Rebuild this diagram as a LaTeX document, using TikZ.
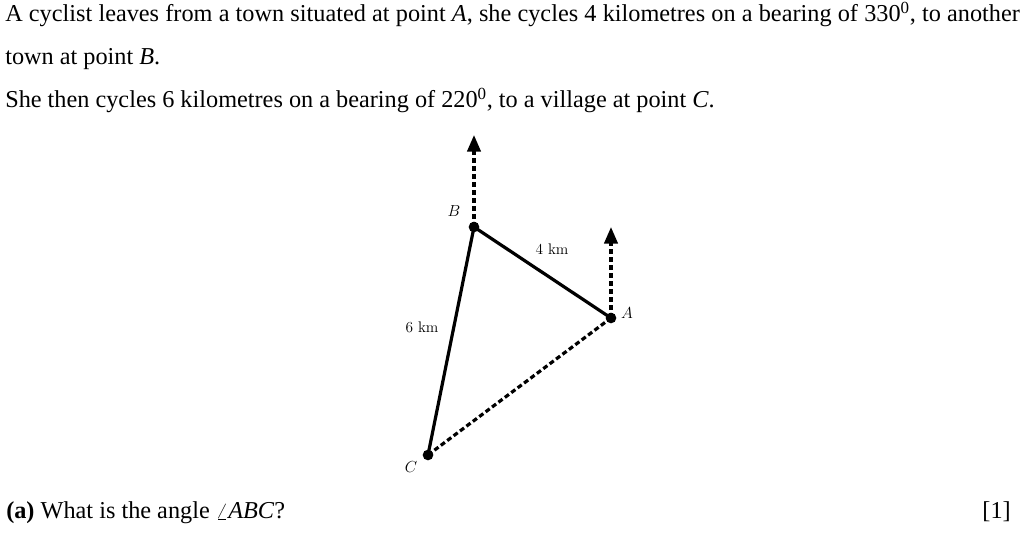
\documentclass[tikz,border=0pt]{standalone}
\usepackage{fontspec}
\setmainfont{Liberation Serif}
\newfontfamily\lmr{Latin Modern Roman}
\usetikzlibrary{arrows.meta}
\begin{document}
\begin{tikzpicture}[x=0.75pt,y=-0.75pt,
  txt/.style={anchor=base west,inner sep=0pt,font=\fontsize{18.2}{21}\selectfont},
  lbl/.style={inner sep=0pt,font=\lmr\fontsize{11.5}{13}\selectfont},
  side/.style={line width=2.4pt},
  dsh/.style={line width=2.4pt,dash pattern=on 3.8pt off 2.2pt},
  north/.style={dsh,-{Triangle[length=12.5pt,width=10pt]}},
  dot/.style={circle,fill=black,inner sep=0pt,minimum size=8pt}]
\useasboundingbox (0,0) rectangle (1026,538);
% text
\node[txt] (t1) at (5,22) {\hbox to 761pt{A cyclist leaves from a town situated at point \textit{A}, she cycles 4 kilometres on a bearing of 330\textsuperscript{0}, to another}};
\node[txt] (t2) at (5,65) {town at point \textit{B}.};
\node[txt] (t3) at (5,108) {She then cycles 6 kilometres on a bearing of 220\textsuperscript{0}, to a village at point \textit{C}.};
\node[txt] (q) at (6,519) {\textbf{(a)} What is the angle $\angle$\textit{ABC}?};
\node[txt,anchor=base east] (m) at (1011,519) {[1]};
% diagram
\coordinate (A) at (611,318);
\coordinate (B) at (474,227);
\coordinate (C) at (428,455);
\coordinate (NA) at (611,227);
\coordinate (NB) at (474,135);
\draw[north] (B) -- (NB);
\draw[north] (A) -- (NA);
\draw[side] (A) -- (B) -- (C);
\draw[dsh] (C) -- (A);
\node[dot] at (A) {};
\node[dot] at (B) {};
\node[dot] at (C) {};
\node[lbl] (lA) at (627,313) {$A$};
\node[lbl] (lB) at (454,211) {$B$};
\node[lbl] (lC) at (411,467) {$C$};
\node[lbl] (l4) at (552,249) {4 km};
\node[lbl] (l6) at (422,327) {6 km};
\end{tikzpicture}
\end{document}
